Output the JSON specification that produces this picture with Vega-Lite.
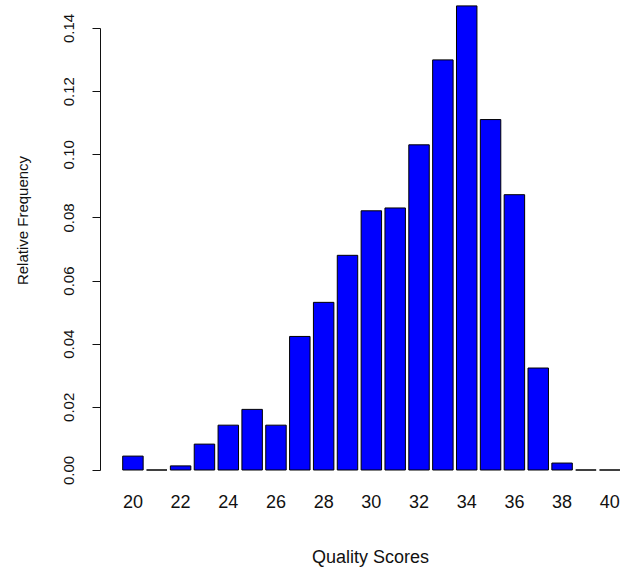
{
  "$schema": "https://vega.github.io/schema/vega-lite/v6.json",
  "autosize": "none",
  "padding": {"left": 100, "top": 28, "right": 0, "bottom": 103},
  "width": 524,
  "height": 442,
  "background": "white",
  "config": {
    "view": {"stroke": null},
    "font": "Liberation Sans",
    "axis": {"grid": false, "labelColor": "#111", "titleColor": "#111", "titleFontWeight": "normal", "domainColor": "#111", "tickColor": "#111"}
  },
  "data": {
    "values": [
      {"score": 20, "freq": 0.0044},
      {"score": 21, "freq": 0.0},
      {"score": 22, "freq": 0.0013},
      {"score": 23, "freq": 0.0082},
      {"score": 24, "freq": 0.0142},
      {"score": 25, "freq": 0.0192},
      {"score": 26, "freq": 0.0142},
      {"score": 27, "freq": 0.0423},
      {"score": 28, "freq": 0.0531},
      {"score": 29, "freq": 0.0680},
      {"score": 30, "freq": 0.0821},
      {"score": 31, "freq": 0.0830},
      {"score": 32, "freq": 0.1030},
      {"score": 33, "freq": 0.1299},
      {"score": 34, "freq": 0.1470},
      {"score": 35, "freq": 0.1110},
      {"score": 36, "freq": 0.0872},
      {"score": 37, "freq": 0.0323},
      {"score": 38, "freq": 0.0022},
      {"score": 39, "freq": 0.0},
      {"score": 40, "freq": 0.0}
    ]
  },
  "mark": {"type": "bar", "fill": "#0000ff", "stroke": "#000000", "strokeWidth": 1, "clip": false},
  "encoding": {
    "x": {
      "field": "score",
      "type": "ordinal",
      "sort": null,
      "scale": {"paddingInner": 0.142, "paddingOuter": 0.56, "align": 0.85},
      "axis": {
        "title": "Quality Scores",
        "values": [20, 22, 24, 26, 28, 30, 32, 34, 36, 38, 40],
        "labelAngle": 0,
        "domain": false,
        "ticks": false,
        "labelFontSize": 18,
        "labelPadding": 32,
        "labelBaseline": "middle",
        "titleFontSize": 18,
        "titleX": 270,
        "titleY": 87,
        "titleBaseline": "middle",
        "titleAlign": "center"
      }
    },
    "y": {
      "field": "freq",
      "type": "quantitative",
      "scale": {"domain": [0, 0.14], "nice": false},
      "axis": {
        "title": "Relative Frequency",
        "values": [0, 0.02, 0.04, 0.06, 0.08, 0.1, 0.12, 0.14],
        "format": ".2f",
        "labelAngle": 270,
        "labelAlign": "center",
        "labelBaseline": "bottom",
        "labelFontSize": 15,
        "labelPadding": 16,
        "tickSize": 8,
        "labelFlush": false,
        "labelOverlap": false,
        "titleFontSize": 15,
        "titleAngle": 270,
        "titleX": -78,
        "titleY": 192,
        "titleAlign": "center",
        "titleBaseline": "middle"
      }
    }
  }
}
